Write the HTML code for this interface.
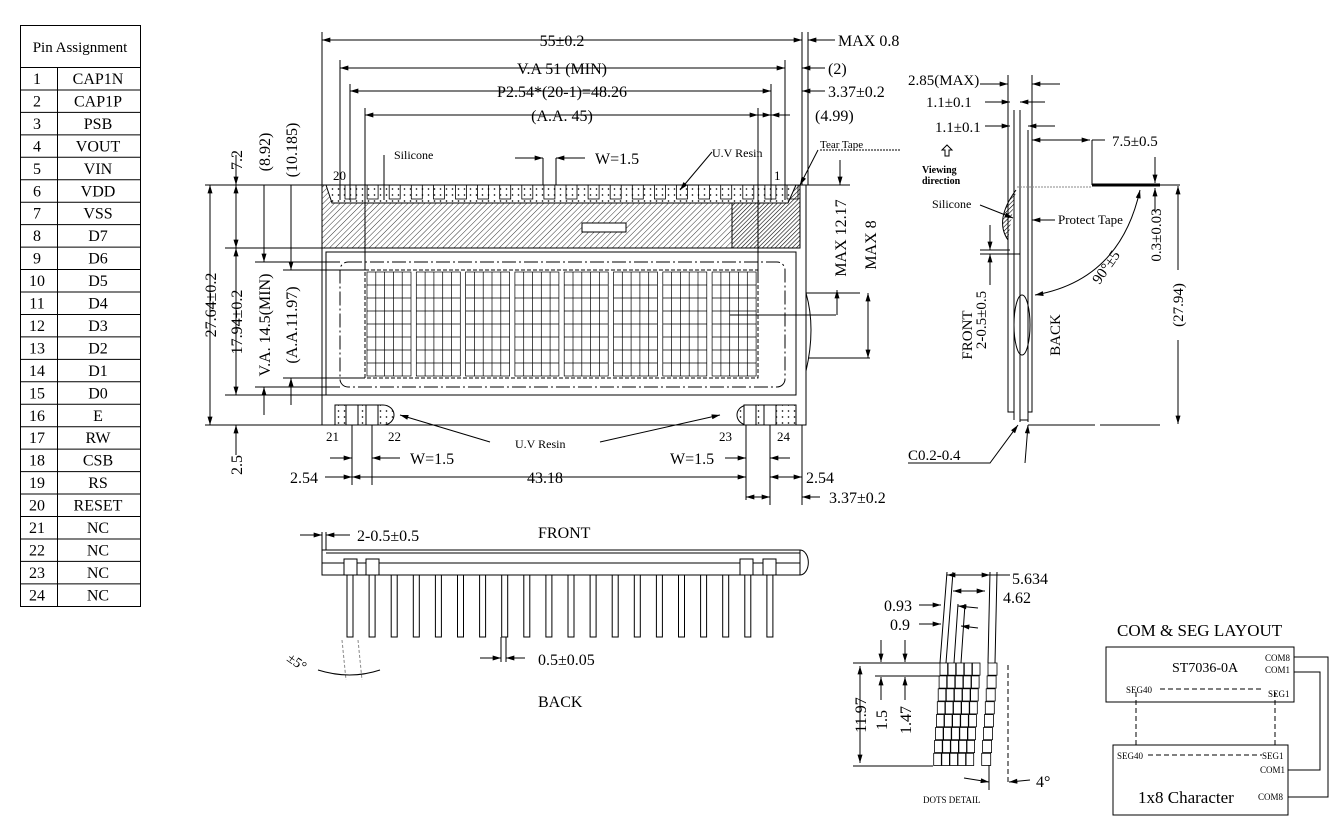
<!DOCTYPE html>
<html><head><meta charset="utf-8"><style>
html,body{margin:0;padding:0;background:#fff}
svg{display:block}
text{font-family:"Liberation Serif",serif;fill:#000}
</style></head><body>
<svg width="1341" height="834" viewBox="0 0 1341 834" xmlns="http://www.w3.org/2000/svg">
<defs>
<pattern id="h" width="4" height="4" patternUnits="userSpaceOnUse" patternTransform="rotate(45)"><line x1="0" y1="0" x2="0" y2="4" stroke="#000" stroke-width="0.8"/></pattern>
<pattern id="h2" width="3" height="3" patternUnits="userSpaceOnUse" patternTransform="rotate(45)"><line x1="0" y1="0" x2="0" y2="3" stroke="#000" stroke-width="1.2"/></pattern>
<pattern id="d" width="6" height="6" patternUnits="userSpaceOnUse"><rect width="6" height="6" fill="#fff"/><path d="M1.5 3h2M2.5 2v2" stroke="#000" stroke-width="0.6"/></pattern>
<marker id="a" viewBox="0 0 10 6" refX="10" refY="3" markerWidth="10" markerHeight="5" orient="auto-start-reverse"><path d="M0 0L10 3L0 6z" fill="#000"/></marker>
</defs>
<g stroke="#000" fill="none" stroke-width="1">
<rect x="20.5" y="25.5" width="120" height="581"/>
<line x1="20" y1="67.5" x2="140" y2="67.5"/>
<line x1="57.5" y1="67" x2="57.5" y2="606"/>
</g>
<g font-size="15">
<text x="80" y="52" text-anchor="middle">Pin Assignment</text>
</g>
<g id="rows" font-size="16"></g>
<g stroke="#000" stroke-width="1" fill="none">
<rect x="322" y="185" width="484" height="240" />
<rect x="322" y="185" width="410" height="63" fill="url(#h)"/>
<rect x="732" y="185" width="68" height="63" fill="url(#h2)"/>
<path d="M326 185 h470 l-8 18 h-456z" fill="url(#d)"/>
<rect x="582" y="223" width="44" height="9" fill="#fff"/>
<rect x="326" y="252" width="470" height="143"/>
<rect x="340" y="262" width="445" height="125" rx="8" stroke-dasharray="14 3 2 3"/>
<rect x="365" y="270" width="393" height="108" stroke-dasharray="4 2"/>
<path d="M806 293 q10 35 0 78"/>
<path d="M335 405 h48 a11 10 0 0 1 0 20 h-48z" fill="url(#d)"/>
<path d="M796 405 h-48 a11 10 0 0 0 0 20 h48z" fill="url(#d)"/>
<rect x="346" y="405" width="12" height="20" fill="#fff"/>
<rect x="366" y="405" width="12" height="20" fill="#fff"/>
<rect x="744" y="405" width="12" height="20" fill="#fff"/>
<rect x="764" y="405" width="12" height="20" fill="#fff"/>
<path d="M322 185V32M340 200V60M350 200V84M365 270V108M758 280V108M771 200V84M785 200V60M802 185V32M808 185V32"/>
<line x1="322" y1="40" x2="802" y2="40" marker-start="url(#a)" marker-end="url(#a)"/>
<line x1="808" y1="40" x2="835" y2="40" marker-start="url(#a)"/>
<line x1="340" y1="68" x2="785" y2="68" marker-start="url(#a)" marker-end="url(#a)"/>
<line x1="802" y1="68" x2="825" y2="68" marker-start="url(#a)"/>
<line x1="350" y1="91" x2="771" y2="91" marker-start="url(#a)" marker-end="url(#a)"/>
<line x1="802" y1="91" x2="825" y2="91" marker-start="url(#a)"/>
<line x1="365" y1="115" x2="758" y2="115" marker-start="url(#a)" marker-end="url(#a)"/>
<line x1="758" y1="115" x2="771" y2="115" marker-end="url(#a)"/>
<line x1="771" y1="115" x2="790" y2="115" marker-start="url(#a)"/>
<path d="M384 155V200M543 158V185M556 158V185"/>
<line x1="515" y1="158" x2="543" y2="158" marker-end="url(#a)"/>
<line x1="585" y1="158" x2="556" y2="158" marker-end="url(#a)"/>
<path d="M205 185H322M225 248H322M255 262H340M283 270H365M205 425H322M225 395H326M255 387H340M283 378H365"/>
<line x1="210" y1="185" x2="210" y2="425" marker-start="url(#a)" marker-end="url(#a)"/>
<line x1="236" y1="155" x2="236" y2="185" marker-end="url(#a)"/>
<line x1="236" y1="185" x2="236" y2="248" marker-start="url(#a)" marker-end="url(#a)"/>
<line x1="236" y1="248" x2="236" y2="395" marker-start="url(#a)" marker-end="url(#a)"/>
<line x1="236" y1="455" x2="236" y2="425" marker-end="url(#a)"/>
<line x1="264" y1="185" x2="264" y2="262" marker-end="url(#a)"/>
<line x1="264" y1="415" x2="264" y2="387" marker-end="url(#a)"/>
<line x1="291" y1="185" x2="291" y2="270" marker-end="url(#a)"/>
<line x1="291" y1="405" x2="291" y2="378" marker-end="url(#a)"/>
<path d="M800 185H850M730 315H836M806 293H860M808 358H870"/>
<line x1="840" y1="160" x2="840" y2="185" marker-end="url(#a)"/>
<line x1="837" y1="315" x2="837" y2="290" marker-end="url(#a)"/>
<line x1="868" y1="293" x2="868" y2="358" marker-start="url(#a)" marker-end="url(#a)"/>
<path d="M352 425V485M372 425V485M746 425V500M770 425V505M802 425V505"/>
<line x1="330" y1="458" x2="352" y2="458" marker-end="url(#a)"/>
<line x1="400" y1="458" x2="372" y2="458" marker-end="url(#a)"/>
<line x1="725" y1="458" x2="746" y2="458" marker-end="url(#a)"/>
<line x1="790" y1="458" x2="770" y2="458" marker-end="url(#a)"/>
<line x1="325" y1="477" x2="352" y2="477" marker-end="url(#a)"/>
<line x1="352" y1="477" x2="746" y2="477" marker-start="url(#a)" marker-end="url(#a)"/>
<line x1="770" y1="477" x2="802" y2="477" marker-start="url(#a)" marker-end="url(#a)"/>
<line x1="746" y1="497" x2="770" y2="497" marker-start="url(#a)" marker-end="url(#a)"/>
<line x1="820" y1="497" x2="802" y2="497" marker-end="url(#a)"/>
<line x1="490" y1="442" x2="400" y2="415" marker-end="url(#a)"/>
<line x1="600" y1="442" x2="720" y2="415" marker-end="url(#a)"/>
<line x1="712" y1="152" x2="680" y2="190" marker-end="url(#a)"/>
<line x1="818" y1="150" x2="800" y2="185" marker-end="url(#a)"/>
<line x1="820" y1="150" x2="900" y2="150" stroke-dasharray="2 1"/>
</g>
<g id="chars" stroke="#000" stroke-width="0.7" fill="none"></g>
<g id="toppads" stroke="#000" stroke-width="0.8" fill="none"></g>
<g font-size="16">
<text x="562" y="46" text-anchor="middle">55±0.2</text>
<text x="838" y="46">MAX  0.8</text>
<text x="562" y="74" text-anchor="middle">V.A 51 (MIN)</text>
<text x="828" y="74">(2)</text>
<text x="562" y="97" text-anchor="middle">P2.54*(20-1)=48.26</text>
<text x="828" y="97">3.37±0.2</text>
<text x="562" y="121" text-anchor="middle">(A.A. 45)</text>
<text x="815" y="121">(4.99)</text>
<text x="595" y="164">W=1.5</text>
<text x="394" y="159" font-size="12">Silicone</text>
<text x="712" y="157" font-size="12">U.V Resin</text>
<text x="820" y="148" font-size="11" fill="#555">Tear Tape</text>
<text x="333" y="180" font-size="13">20</text>
<text x="774" y="180" font-size="13">1</text>
<text x="326" y="441" font-size="13">21</text>
<text x="388" y="441" font-size="13">22</text>
<text x="719" y="441" font-size="13">23</text>
<text x="777" y="441" font-size="13">24</text>
<text x="515" y="448" font-size="12">U.V Resin</text>
<text x="410" y="464">W=1.5</text>
<text x="670" y="464">W=1.5</text>
<text x="290" y="483">2.54</text>
<text x="545" y="483" text-anchor="middle">43.18</text>
<text x="806" y="483">2.54</text>
<text x="829" y="503">3.37±0.2</text>
<text transform="translate(216 305) rotate(-90)" text-anchor="middle">27.64±0.2</text>
<text transform="translate(242 160) rotate(-90)" text-anchor="middle">7.2</text>
<text transform="translate(242 465) rotate(-90)" text-anchor="middle">2.5</text>
<text transform="translate(242 322) rotate(-90)" text-anchor="middle">17.94±0.2</text>
<text transform="translate(270 152) rotate(-90)" text-anchor="middle">(8.92)</text>
<text transform="translate(270 325) rotate(-90)" text-anchor="middle">V.A. 14.5(MIN)</text>
<text transform="translate(297 150) rotate(-90)" text-anchor="middle">(10.185)</text>
<text transform="translate(297 325) rotate(-90)" text-anchor="middle">(A.A.11.97)</text>
<text transform="translate(846 238) rotate(-90)" text-anchor="middle">MAX 12.17</text>
<text transform="translate(876 245) rotate(-90)" text-anchor="middle">MAX 8</text>
</g>
<g stroke="#000" stroke-width="1" fill="none">
<path d="M1008 75V412H1014V420M1014 110V420M1020 110V422M1032 75V412H1028M1028 130V422"/>
<path d="M1020 420H1028M1028 425H1095"/>
<path d="M1017 187H1092" stroke="#888" stroke-dasharray="2 1"/>
<path d="M1092 185H1160" stroke-width="3"/>
<path d="M1008 240 q-14 -20 8 -50" fill="url(#h2)"/>
<ellipse cx="1022" cy="325" rx="8" ry="30"/>
<path d="M1100 425H1160M1100 185H1180"/>
<line x1="980" y1="84" x2="1008" y2="84" marker-end="url(#a)"/>
<line x1="1060" y1="84" x2="1032" y2="84" marker-end="url(#a)"/>
<line x1="985" y1="102" x2="1010" y2="102" marker-end="url(#a)"/>
<line x1="1045" y1="102" x2="1020" y2="102" marker-end="url(#a)"/>
<line x1="985" y1="126" x2="1010" y2="126" marker-end="url(#a)"/>
<line x1="1055" y1="126" x2="1028" y2="126" marker-end="url(#a)"/>
<line x1="1090" y1="140" x2="1032" y2="140" marker-start="url(#a)" marker-end="url(#a)"/>
<path d="M1092 140V185M1092 140H1105"/>
<line x1="1155" y1="157" x2="1155" y2="183" marker-end="url(#a)"/>
<line x1="1155" y1="212" x2="1155" y2="188" marker-end="url(#a)"/>
<line x1="1178" y1="270" x2="1178" y2="186" marker-end="url(#a)"/>
<line x1="1178" y1="340" x2="1178" y2="424" marker-end="url(#a)"/>
<line x1="990" y1="225" x2="990" y2="250" marker-end="url(#a)"/>
<line x1="990" y1="285" x2="990" y2="254" marker-end="url(#a)"/>
<path d="M980 250H1010M980 254H1020"/>
<path d="M1140 190 Q1120 280 1035 295" marker-start="url(#a)" marker-end="url(#a)"/>
<line x1="1055" y1="220" x2="1032" y2="220" marker-end="url(#a)"/>
<line x1="980" y1="205" x2="1013" y2="218" marker-end="url(#a)"/>
<path d="M908 463H990L1018 425" marker-end="url(#a)"/>
<line x1="1025" y1="463" x2="1028" y2="425" marker-end="url(#a)"/>
<path d="M942 150 l5 -5 l5 5 h-3 v6 h-4 v-6z"/>
</g>
<g font-size="15">
<text x="908" y="85">2.85(MAX)</text>
<text x="926" y="107">1.1±0.1</text>
<text x="935" y="132">1.1±0.1</text>
<text x="1112" y="146">7.5±0.5</text>
<text x="922" y="173" font-size="10" font-weight="bold">Viewing</text>
<text x="922" y="184" font-size="10" font-weight="bold">direction</text>
<text x="932" y="208" font-size="12">Silicone</text>
<text x="1058" y="224" font-size="13">Protect Tape</text>
<text transform="translate(1110 270) rotate(-55)" text-anchor="middle">90°±5</text>
<text transform="translate(1161 235) rotate(-90)" text-anchor="middle">0.3±0.03</text>
<text transform="translate(1183 305) rotate(-90)" text-anchor="middle">(27.94)</text>
<text transform="translate(972 335) rotate(-90)" text-anchor="middle">FRONT</text>
<text transform="translate(986 320) rotate(-90)" text-anchor="middle">2-0.5±0.5</text>
<text transform="translate(1060 335) rotate(-90)" text-anchor="middle">BACK</text>
<text x="908" y="460" fill="#224">C0.2-0.4</text>
</g>
<g stroke="#000" stroke-width="1" fill="none">
<rect x="322" y="550" width="478" height="25"/>
<path d="M322 563H800M326 553H800M800 550 a8 12 0 0 1 0 25"/>
<path d="M322 532V550M326 532V550"/>
<line x1="300" y1="535" x2="322" y2="535" marker-end="url(#a)"/>
<line x1="350" y1="535" x2="326" y2="535" marker-end="url(#a)"/>
<rect x="344" y="559" width="13" height="16" fill="#fff"/>
<rect x="366" y="559" width="13" height="16" fill="#fff"/>
<rect x="740" y="559" width="13" height="16" fill="#fff"/>
<rect x="763" y="559" width="13" height="16" fill="#fff"/>
<path d="M342 640 L346 680 M358 640 L362 680" stroke-dasharray="3 2" stroke="#888"/>
<path d="M318 670 Q350 680 380 670"/>
<line x1="480" y1="658" x2="501" y2="658" marker-end="url(#a)"/>
<line x1="525" y1="658" x2="506" y2="658" marker-end="url(#a)"/>
<path d="M501 637V662M506 637V662"/>
</g>
<g id="pins" stroke="#000" stroke-width="1" fill="none"></g>
<g font-size="16">
<text x="357" y="541">2-0.5±0.5</text>
<text x="538" y="538">FRONT</text>
<text x="538" y="707">BACK</text>
<text x="538" y="665">0.5±0.05</text>
<text transform="translate(286 660) rotate(35)" font-size="14">±5°</text>
</g>
<g stroke="#000" stroke-width="1" fill="none">
<path d="M947 572 L940 663M953 572 L946 663M990 572 L988 663M997 572 L995 663M958 604 L954 663M965 604 L961 663"/>
<line x1="947" y1="575" x2="990" y2="575" marker-start="url(#a)" marker-end="url(#a)"/>
<line x1="990" y1="575" x2="1010" y2="575"/>
<line x1="953" y1="591" x2="985" y2="591" marker-start="url(#a)" marker-end="url(#a)"/>
<line x1="919" y1="605" x2="941" y2="605" marker-end="url(#a)"/>
<line x1="978" y1="608" x2="958" y2="606" marker-end="url(#a)"/>
<line x1="919" y1="624" x2="941" y2="624" marker-end="url(#a)"/>
<line x1="978" y1="628" x2="961" y2="626" marker-end="url(#a)"/>
<path d="M853 663H940M875 676H940M853 766H933"/>
<line x1="860" y1="666" x2="860" y2="763" marker-start="url(#a)" marker-end="url(#a)"/>
<line x1="881" y1="640" x2="881" y2="662" marker-end="url(#a)"/>
<line x1="881" y1="700" x2="881" y2="677" marker-end="url(#a)"/>
<line x1="905" y1="640" x2="905" y2="662" marker-end="url(#a)"/>
<line x1="905" y1="700" x2="905" y2="677" marker-end="url(#a)"/>
<path d="M1008 665V785" stroke-dasharray="5 3"/>
<line x1="964" y1="778" x2="989" y2="782" marker-end="url(#a)"/>
<line x1="1030" y1="780" x2="1009" y2="782" marker-end="url(#a)"/>
<path d="M989 765V790"/>
</g>
<g id="dots" stroke="#000" stroke-width="0.8" fill="none"></g>
<g font-size="16">
<text x="1012" y="584">5.634</text>
<text x="1003" y="603">4.62</text>
<text x="884" y="611">0.93</text>
<text x="890" y="630">0.9</text>
<text transform="translate(866 715) rotate(-90)" text-anchor="middle">11.97</text>
<text transform="translate(887 720) rotate(-90)" text-anchor="middle">1.5</text>
<text transform="translate(911 720) rotate(-90)" text-anchor="middle">1.47</text>
<text x="1036" y="787">4°</text>
<text x="923" y="803" font-size="9" fill="#333">DOTS DETAIL</text>
</g>
<g stroke="#000" stroke-width="1" fill="none">
<rect x="1106" y="647" width="188" height="55"/>
<rect x="1113" y="745" width="175" height="70"/>
<path d="M1160 689H1262M1136 692V745M1275 692V745M1148 755H1262" stroke-dasharray="5 3"/>
<path d="M1294 657H1328V797H1288M1294 672H1320V770H1288"/>
</g>
<g>
<text x="1117" y="636" font-size="17">COM &amp; SEG LAYOUT</text>
<text x="1172" y="672" font-size="14">ST7036-0A</text>
<text x="1265" y="661" font-size="9">COM8</text>
<text x="1265" y="673" font-size="9">COM1</text>
<text x="1126" y="693" font-size="9">SEG40</text>
<text x="1268" y="697" font-size="9">SEG1</text>
<text x="1117" y="759" font-size="9">SEG40</text>
<text x="1262" y="759" font-size="9">SEG1</text>
<text x="1260" y="773" font-size="9">COM1</text>
<text x="1138" y="803" font-size="17">1x8 Character</text>
<text x="1258" y="800" font-size="9">COM8</text>
</g>
</svg>
<script>
var ns="http://www.w3.org/2000/svg";
function el(p,t,a,txt){var e=document.createElementNS(ns,t);for(var k in a)e.setAttribute(k,a[k]);if(txt)e.textContent=txt;document.getElementById(p).appendChild(e);}
var names=["CAP1N","CAP1P","PSB","VOUT","VIN","VDD","VSS","D7","D6","D5","D4","D3","D2","D1","D0","E","RW","CSB","RS","RESET","NC","NC","NC","NC"];
for(var i=0;i<24;i++){var y=67+i*22.45;
if(i>0)el("rows","line",{x1:20,y1:y+0.5,x2:140,y2:y+0.5,stroke:"#000"});
el("rows","text",{x:37,y:y+17,"text-anchor":"middle"},String(i+1));
el("rows","text",{x:98,y:y+17,"text-anchor":"middle"},names[i]);}
el("rows","line",{x1:20,y1:606.5,x2:140,y2:606.5,stroke:"#000"});
for(var c=0;c<8;c++){var x0=367+c*49.3,w=44,y0=272,h=104;
el("chars","rect",{x:x0,y:y0,width:w,height:h});
for(var k=1;k<5;k++)el("chars","line",{x1:x0+k*w/5,y1:y0,x2:x0+k*w/5,y2:y0+h});
for(var k=1;k<8;k++)el("chars","line",{x1:x0,y1:y0+k*h/8,x2:x0+w,y2:y0+k*h/8});}
for(var p=0;p<21;p++){var x=345+p*22.1;el("toppads","rect",{x:x,y:185,width:11,height:14,fill:"none"});}
for(var p=0;p<20;p++){var x=350+p*22.1;
if(p>=2&&p<=17){el("pins","path",{d:"M"+(x-5)+" 575h10M"+(x-3)+" 575v62h6v-62"});}
else el("pins","path",{d:"M"+(x-3)+" 575v62h6v-62"});}
// dots detail: slanted grid
for(var r=0;r<8;r++){var y=663+r*12.9,s=-r*0.9;
for(var q=0;q<5;q++)el("dots","rect",{x:940+s+q*8.1,y:y,width:7.6,height:12.2});
el("dots","rect",{x:988+s,y:y,width:9,height:12.2});}
</script>
</body></html>
